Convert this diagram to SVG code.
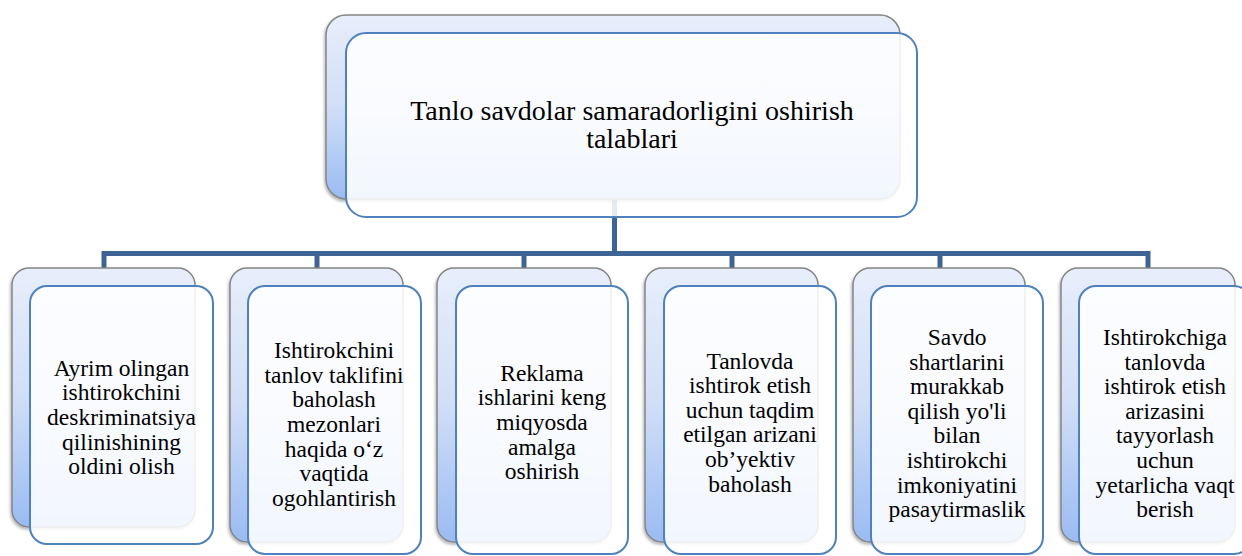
<svg xmlns="http://www.w3.org/2000/svg" width="1242" height="556" viewBox="0 0 1242 556">
<style>
.back{fill:url(#bg);stroke:#858585;stroke-width:1.5;filter:url(#sh)}
.front{fill:#ffffff;fill-opacity:0.87;stroke:#4f81bd;stroke-width:2}
.conn{fill:none;stroke:#3e6496;stroke-width:5;stroke-linejoin:miter;stroke-linecap:butt}
.t{font-size:23.5px;fill:#000;text-anchor:middle}
.title{font-size:28px;fill:#000;text-anchor:middle}
</style>
<defs>
<linearGradient id="bg" x1="0" y1="0" x2="0" y2="1">
<stop offset="0" stop-color="#e8eefb"/>
<stop offset="0.5" stop-color="#d0def7"/>
<stop offset="1" stop-color="#9abbf2"/>
</linearGradient>
<filter id="sh" x="-10%" y="-10%" width="120%" height="120%">
<feDropShadow dx="-1" dy="2" stdDeviation="1.5" flood-color="#000" flood-opacity="0.3"/>
</filter>
</defs>
<rect width="1242" height="556" fill="#ffffff"/>
<g id="connectors">
<path class="conn" d="M614.5,200 V253.5"/>
<path class="conn" d="M104,268 V253.5 H1148 V268"/>
<path class="conn" d="M317,253.5 V268"/>
<path class="conn" d="M524,253.5 V268"/>
<path class="conn" d="M732,253.5 V268"/>
<path class="conn" d="M940,253.5 V268"/>
</g>
<g font-family="'Liberation Serif', 'DejaVu Serif', serif">
<g id="root">
<rect class="back" x="326" y="15" width="574" height="184" rx="20"/>
<rect class="front" x="346" y="33" width="571" height="184" rx="20"/>
<text class="title" x="632" y="120">Tanlo savdolar samaradorligini oshirish<tspan x="632" dy="28">talablari</tspan></text>
</g>
<g id="n1">
<rect class="back" x="12" y="268" width="183" height="259" rx="17"/>
<rect class="front" x="30" y="286" width="183" height="258" rx="17"/>
<text class="t" x="121.5" y="375.8">Ayrim olingan<tspan x="121.5" dy="24.6">ishtirokchini</tspan><tspan x="121.5" dy="24.6">deskriminatsiya</tspan><tspan x="121.5" dy="24.6">qilinishining</tspan><tspan x="121.5" dy="24.6">oldini olish</tspan></text>
</g>
<g id="n2">
<rect class="back" x="230" y="268" width="173" height="274" rx="17"/>
<rect class="front" x="248" y="286" width="173" height="268" rx="17"/>
<text class="t" x="334" y="358.2">Ishtirokchini<tspan x="334" dy="24.6">tanlov taklifini</tspan><tspan x="334" dy="24.6">baholash</tspan><tspan x="334" dy="24.6">mezonlari</tspan><tspan x="334" dy="24.6">haqida o‘z</tspan><tspan x="334" dy="24.6">vaqtida</tspan><tspan x="334" dy="24.6">ogohlantirish</tspan></text>
</g>
<g id="n3">
<rect class="back" x="437" y="268" width="174" height="274" rx="17"/>
<rect class="front" x="456" y="286" width="172" height="268" rx="17"/>
<text class="t" x="542" y="380.8">Reklama<tspan x="542" dy="24.6">ishlarini keng</tspan><tspan x="542" dy="24.6">miqyosda</tspan><tspan x="542" dy="24.6">amalga</tspan><tspan x="542" dy="24.6">oshirish</tspan></text>
</g>
<g id="n4">
<rect class="back" x="645" y="268" width="173" height="274" rx="17"/>
<rect class="front" x="664" y="286" width="172" height="268" rx="17"/>
<text class="t" x="750" y="368.5">Tanlovda<tspan x="750" dy="24.6">ishtirok etish</tspan><tspan x="750" dy="24.6">uchun taqdim</tspan><tspan x="750" dy="24.6">etilgan arizani</tspan><tspan x="750" dy="24.6">ob’yektiv</tspan><tspan x="750" dy="24.6">baholash</tspan></text>
</g>
<g id="n5">
<rect class="back" x="853" y="268" width="172" height="274" rx="17"/>
<rect class="front" x="871" y="286" width="172" height="268" rx="17"/>
<text class="t" x="957" y="344.9">Savdo<tspan x="957" dy="24.6">shartlarini</tspan><tspan x="957" dy="24.6">murakkab</tspan><tspan x="957" dy="24.6">qilish yo'li</tspan><tspan x="957" dy="24.6">bilan</tspan><tspan x="957" dy="24.6">ishtirokchi</tspan><tspan x="957" dy="24.6">imkoniyatini</tspan><tspan x="957" dy="24.6">pasaytirmaslik</tspan></text>
</g>
<g id="n6">
<rect class="back" x="1061" y="268" width="174" height="274" rx="17"/>
<rect class="front" x="1079" y="286" width="172" height="268" rx="17"/>
<text class="t" x="1165" y="344.9">Ishtirokchiga<tspan x="1165" dy="24.6">tanlovda</tspan><tspan x="1165" dy="24.6">ishtirok etish</tspan><tspan x="1165" dy="24.6">arizasini</tspan><tspan x="1165" dy="24.6">tayyorlash</tspan><tspan x="1165" dy="24.6">uchun</tspan><tspan x="1165" dy="24.6">yetarlicha vaqt</tspan><tspan x="1165" dy="24.6">berish</tspan></text>
</g>
</g>
</svg>
